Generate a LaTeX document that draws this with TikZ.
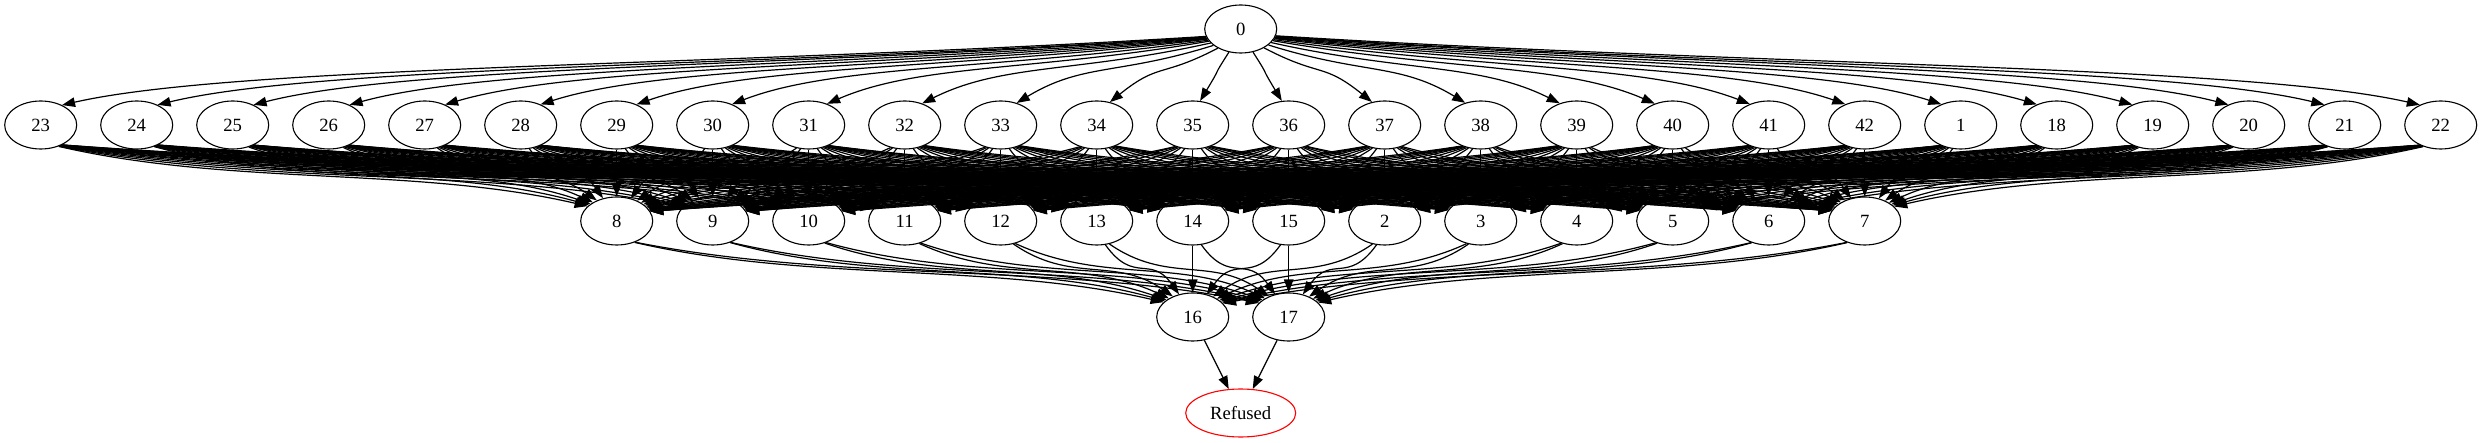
\documentclass[tikz,border=0pt]{standalone}
\usepackage{fontspec}
\setmainfont{Liberation Serif}
\usetikzlibrary{arrows.meta,shapes.geometric}
\begin{document}
\begin{tikzpicture}[x=1pt,y=-1pt,
  nd/.style={draw, ellipse, minimum width=72pt, minimum height=48pt, inner sep=0pt, line width=1.1pt, font=\fontsize{18.67}{22}\selectfont},
  edge/.style={line width=1.2pt, -{Triangle[length=13pt,width=9.5pt]}}]
\useasboundingbox (0,0) rectangle (2483,443);
% nodes
\node[nd] (n0) at (1240.7,29) {0};
\foreach \n [count=\i from 0] in {23,24,25,26,27,28,29,30,31,32,33,34,35,36,37,38,39,40,41,42,1,18,19,20,21,22} {
  \node[nd] (n\n) at ({40.7+96*\i},125) {\n};
}
\foreach \n [count=\i from 6] in {8,9,10,11,12,13,14,15,2,3,4,5,6,7} {
  \node[nd] (n\n) at ({40.7+96*\i},221) {\n};
}
\node[nd] (n16) at (1192.7,317) {16};
\node[nd] (n17) at (1288.7,317) {17};
\node[nd, draw=red, minimum width=110pt] (ref) at (1240.7,413) {Refused};
% edges 0 -> row 2
\foreach \n [count=\i from 0] in {23,24,25,26,27,28,29,30,31,32,33,34,35,36,37,38,39,40,41,42,1,18,19,20,21,22} {
  \pgfmathsetmacro\ddx{40.7+96*\i-1240.7}
  \pgfmathsetmacro\rr{\ddx/(abs(\ddx)+100)}
  \pgfmathsetmacro\cc{0.1+60/(abs(\ddx)+100)}
  \pgfmathtruncatemacro\angS{-90+85*\rr}
  \pgfmathtruncatemacro\angT{90+50*\rr}
  \draw[edge] (n0.\angS) .. controls +({0.4*\ddx},30) and +({-\cc*\ddx},-40) .. (n\n.\angT);
}
% edges row 2 -> row 3
\foreach \s [count=\i from 0] in {23,24,25,26,27,28,29,30,31,32,33,34,35,36,37,38,39,40,41,42,1,18,19,20,21,22} {
  \foreach \t [count=\j from 6] in {8,9,10,11,12,13,14,15,2,3,4,5,6,7} {
    \pgfmathsetmacro\ddx{96*(\j-\i)}
    \pgfmathsetmacro\rr{\ddx/(abs(\ddx)+150)}
    \pgfmathtruncatemacro\angS{-90+50*\rr}
    \pgfmathtruncatemacro\angT{90+80*\rr}
    \draw[edge] (n\s.\angS) .. controls +({0.3*\ddx},40) and +({-0.3*\ddx},-40) .. (n\t.\angT);
  }
}
% edges row 3 -> 16, 17
\foreach \t [count=\j from 6] in {8,9,10,11,12,13,14,15,2,3,4,5,6,7} {
  \foreach \u/\k in {16/12,17/13} {
    \pgfmathsetmacro\ddx{96*(\k-\j)}
    \pgfmathsetmacro\rr{\ddx/(abs(\ddx)+150)}
    \pgfmathtruncatemacro\angS{-90+50*\rr}
    \pgfmathtruncatemacro\angT{90+80*\rr}
    \draw[edge] (n\t.\angS) .. controls +({0.3*\ddx},40) and +({-0.3*\ddx},-40) .. (n\u.\angT);
  }
}
\draw[edge] (n16) -- (ref);
\draw[edge] (n17) -- (ref);
\end{tikzpicture}
\end{document}
